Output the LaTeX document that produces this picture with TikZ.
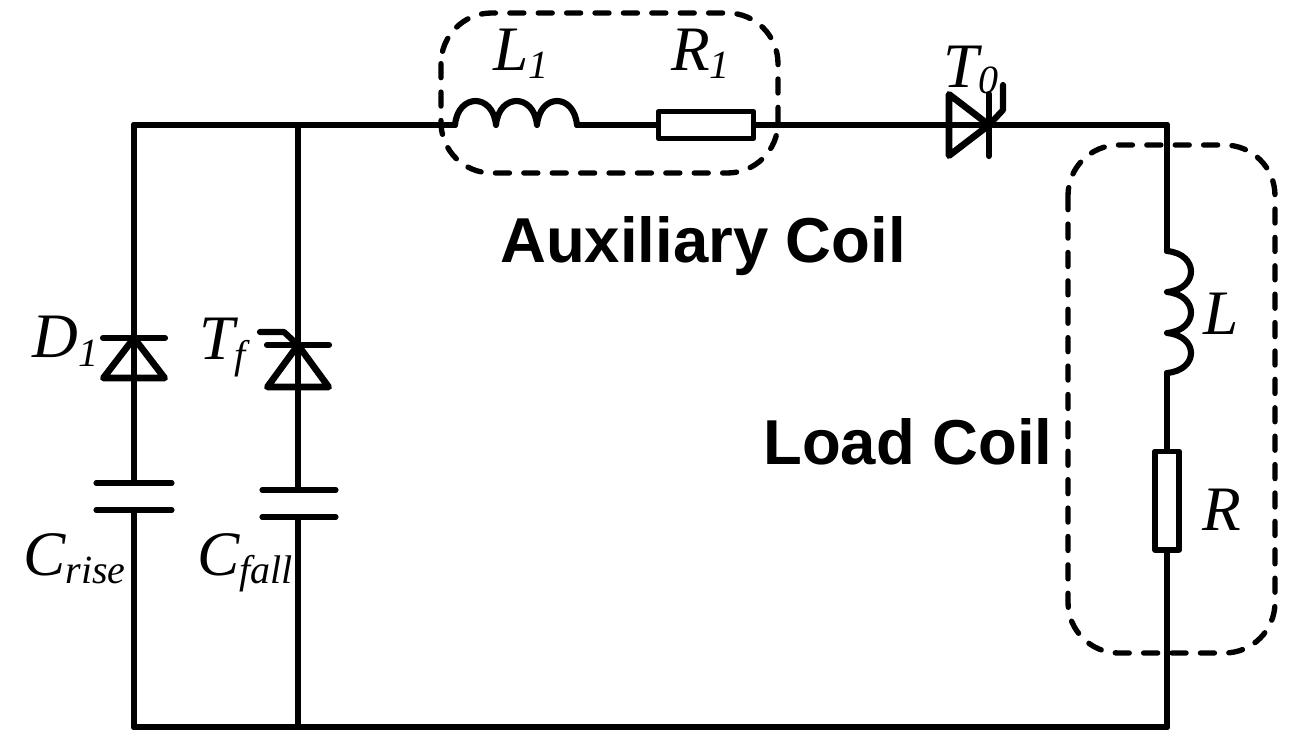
\documentclass[tikz,border=0pt]{standalone}
\usepackage{fontspec}
\setmainfont{Liberation Serif}
\newfontfamily\boldsans[BoldFont={Liberation Sans Bold}]{Liberation Sans}
\newcommand{\bigit}{\fontsize{47.5}{50}\selectfont\itshape}
\newcommand{\subit}{\fontsize{30}{32}\selectfont\itshape}
\newcommand{\lbl}[3]{{\bigit #1}\raisebox{#3}{\subit #2}}
\tikzset{
  wire/.style={line width=4.6pt,line cap=round,line join=round},
  triangleline/.style={line width=5pt,line cap=round,line join=round},
  capplate/.style={line width=3.8pt,line cap=round},
  dashgroup/.style={line width=4pt,line cap=round,dash pattern=on 10.5pt off 10.8pt,rounded corners=38pt},
  resbox/.style={draw,fill=white,line width=4pt,inner sep=0pt,line join=round},
  complabel/.style={inner sep=0pt,anchor=base west},
  coillabel/.style={inner sep=0pt,anchor=base west,font=\boldsans\bfseries\fontsize{47.6}{50}\selectfont}
}
\begin{document}
\begin{tikzpicture}[x=0.75pt,y=-0.75pt]
\useasboundingbox (0,0) rectangle (1297,746);
% junctions
\coordinate (tl) at (134,125);
\coordinate (tm) at (298,125);
\coordinate (tr) at (1167,125);
\coordinate (bl) at (134,727);
\coordinate (bm) at (298,727);
\coordinate (br) at (1167,727);
% components on the top rail
\coordinate (l1a) at (455,125);
\coordinate (l1b) at (496,125);
\coordinate (l1c) at (537,125);
\coordinate (l1d) at (577,125);
\node[resbox,minimum width=71.5pt,minimum height=20pt] (r1) at (706,125) {};
\coordinate (t0a) at (949,125);
\coordinate (t0k) at (989,125);
% components on the right rail
\coordinate (la) at (1167,251);
\coordinate (lb) at (1167,292);
\coordinate (lc) at (1167,333);
\coordinate (ld) at (1167,373);
\node[resbox,minimum width=18pt,minimum height=74pt] (r) at (1167,500.5) {};
% left branch
\coordinate (d1k) at (134,338);
\coordinate (d1a) at (134,378);
\coordinate (c1a) at (134,483);
\coordinate (c1b) at (134,510);
% second branch
\coordinate (tfk) at (298,345);
\coordinate (tfa) at (298,387);
\coordinate (c2a) at (298,490);
\coordinate (c2b) at (298,517);
% wires
\draw[wire] (tl) -- (tm) -- (l1a);
\draw[wire] (l1d) -- (r1.west);
\draw[wire] (r1.east) -- (t0a);
\draw[wire] (t0a) -- (t0k) -- (tr);
\draw[wire] (tr) -- (la);
\draw[wire] (ld) -- (r.north);
\draw[wire] (r.south) -- (br);
\draw[wire] (br) -- (bm) -- (bl);
\draw[wire] (tl) -- (d1k) -- (d1a) -- (c1a);
\draw[wire] (c1b) -- (bl);
\draw[wire] (tm) -- (tfk) -- (tfa) -- (c2a);
\draw[wire] (c2b) -- (bm);
% inductors
\draw[wire] (l1a) .. controls +(3,-32) and +(-3,-32) .. (l1b)
  .. controls +(3,-32) and +(-3,-32) .. (l1c)
  .. controls +(3,-32) and +(-3,-32) .. (l1d);
\draw[wire] (la) .. controls +(32,3) and +(32,-3) .. (lb)
  .. controls +(32,3) and +(32,-3) .. (lc)
  .. controls +(32,3) and +(32,-3) .. (ld);
% diode D1
\draw[wire] (d1k) ++(-31,0) -- +(62,0);
\draw[triangleline] (d1k) -- ([xshift=-23pt]d1a) -- ([xshift=23pt]d1a) -- cycle;
% thyristor Tf
\draw[wire] (tfk) ++(-31,0) -- +(62,0);
\draw[triangleline] (tfk) -- ([xshift=-23pt]tfa) -- ([xshift=23pt]tfa) -- cycle;
\draw[wire] (tfk) -- ++(-14,-13) -- ++(-24,0);
% thyristor T0
\draw[wire] (t0k) ++(0,-31) -- +(0,62);
\draw[triangleline] (t0k) -- ([yshift=-23pt]t0a) -- ([yshift=23pt]t0a) -- cycle;
\draw[wire] (t0k) -- ++(14,-15) -- ++(0,-25);
% capacitors
\draw[capplate] (96,483) -- (172,483);
\draw[capplate] (96,510) -- (172,510);
\draw[capplate] (262,490) -- (336,490);
\draw[capplate] (262,517) -- (336,517);
% dashed groups
\draw[dashgroup] (441,13) rectangle (778,173);
\draw[dashgroup] (1068,145) rectangle (1275,653);
% labels
\node[complabel] (tL1) at (493,70) {\lbl{L}{1}{-6pt}};
\node[complabel] (tR1) at (671,70) {\lbl{R}{1}{-6pt}};
\node[complabel] (tT0) at (943,87) {\lbl{T}{0}{-5pt}};
\node[complabel] (tD1) at (32,357) {\lbl{D}{1}{-7pt}};
\node[complabel] (tTf) at (199,359) {\lbl{T}{f}{-7pt}};
\node[complabel] (tCr) at (23,575) {\lbl{C}{rise}{-6pt}};
\node[complabel] (tCf) at (197,575) {\lbl{C}{fall}{-6pt}};
\node[complabel] (tL) at (1203,334) {\bigit L};
\node[complabel] (tR) at (1202,530) {\bigit R};
\node[coillabel] (aux) at (500,262) {Auxiliary Coil};
\node[coillabel] (load) at (763,464) {Load Coil};
\end{tikzpicture}
\end{document}
